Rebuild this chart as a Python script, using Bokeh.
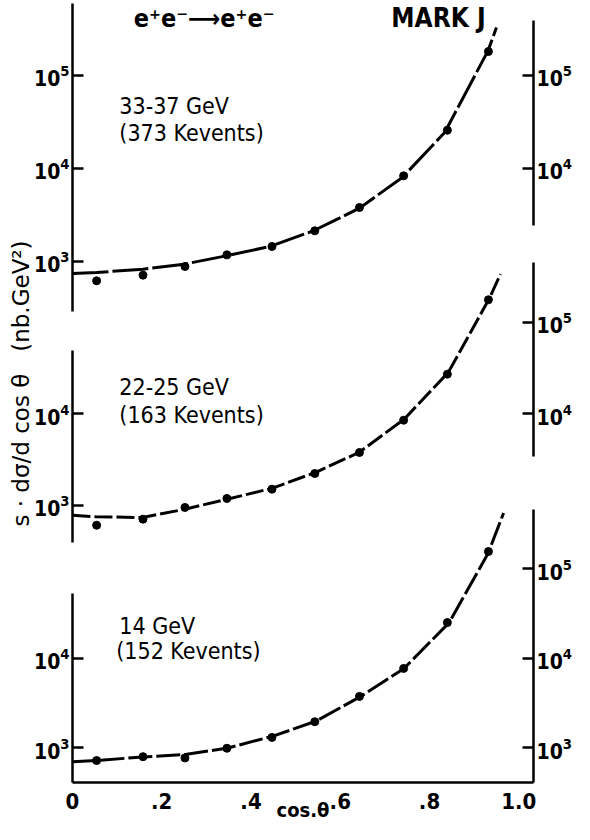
from bokeh.plotting import figure
from bokeh.layouts import column
from bokeh.models import Range1d, LogAxis, FixedTicker, Label
from bokeh.embed import file_html
from bokeh.resources import INLINE

FONT = "DejaVu Sans Condensed"
TITLE_FONT = "DejaVu Sans"

# ---- data ----
x_points = [0.054, 0.158, 0.252, 0.346, 0.447, 0.543, 0.643, 0.742, 0.840, 0.932]
top_points = [620, 713, 884, 1180, 1450, 2140, 3810, 8340, 25800, 181000]
mid_points = [601, 700, 940, 1178, 1490, 2210, 3750, 8450, 26900, 175000]
bot_points = [725, 800, 775, 993, 1312, 1963, 3760, 7710, 25000, 155000]

top_curve_x = [0.0, 0.054, 0.158, 0.25, 0.344, 0.442, 0.54, 0.642, 0.739, 0.834, 0.931, 0.950]
top_curve_y = [743, 762, 826, 935, 1150, 1450, 2140, 3720, 8000, 24400, 184000, 328000]
mid_curve_x = [0.0, 0.053, 0.157, 0.252, 0.346, 0.448, 0.544, 0.642, 0.743, 0.842, 0.933, 0.959]
mid_curve_y = [774, 743, 730, 900, 1155, 1527, 2264, 3750, 8670, 28100, 177000, 333000]
bot_curve_x = [0.0, 0.054, 0.158, 0.256, 0.348, 0.451, 0.546, 0.646, 0.743, 0.844, 0.931, 0.966]
bot_curve_y = [701, 725, 795, 850, 1000, 1365, 1995, 3760, 7710, 25000, 147000, 416000]

x_ticks = [0.0, 0.2, 0.4, 0.6, 0.8, 1.0]
x_tick_labels = ["0", ".2", ".4", ".6", ".8", "1.0"]

top_left_ticks = [1e3, 1e4, 1e5]
top_right_ticks = [1e4, 1e5]
mid_left_ticks = [1e3, 1e4]
mid_right_ticks = [1e4, 1e5]
bot_left_ticks = [1e3, 1e4]
bot_right_ticks = [1e3, 1e4, 1e5]

panel_energy = ["33-37 GeV", "22-25 GeV", "14 GeV"]
panel_events = ["(373 Kevents)", "(163 Kevents)", "(152 Kevents)"]
y_title = "s \u00b7 d\u03c3/d cos \u03b8\u00a0\u00a0\u00a0(nb.GeV\u00b2)"
x_title = "cos.\u03b8"

AX_W = 2.5
X_END = 1.033


def make_fig(h, ylo, yhi, mbt, mbb, with_xaxis):
    f = figure(width=574, height=h, x_range=Range1d(0, X_END), y_range=Range1d(ylo, yhi),
               y_axis_type="log", y_axis_location=None,
               x_axis_location="below" if with_xaxis else None,
               output_backend="svg", toolbar_location=None,
               min_border_left=72, min_border_right=30,
               min_border_top=mbt, min_border_bottom=mbb)
    f.grid.visible = False
    f.outline_line_color = None
    f.background_fill_color = None
    f.border_fill_color = None
    return f


def add_yaxis(f, side, ticks, bounds, label=None):
    ax = LogAxis(ticker=FixedTicker(ticks=ticks), bounds=bounds)
    ax.axis_line_width = AX_W
    ax.axis_line_color = "black"
    ax.major_tick_line_width = AX_W
    ax.major_tick_line_color = "black"
    ax.major_tick_in = 11
    ax.major_tick_out = 0
    ax.minor_tick_line_color = None
    ax.major_label_standoff = 3
    ax.major_label_text_font = FONT
    ax.major_label_text_font_size = "21px"
    ax.major_label_text_font_style = "bold"
    ax.major_label_text_color = "black"
    if label:
        ax.axis_label = label
        ax.axis_label_text_font = TITLE_FONT
        ax.axis_label_text_font_size = "23px"
        ax.axis_label_text_font_style = "normal"
        ax.axis_label_text_color = "black"
        ax.axis_label_standoff = -3
    f.add_layout(ax, side)


def lab(f, x, y, text, size="23px", style="normal", align="left", baseline="alphabetic"):
    f.add_layout(Label(x=x, y=y, text=text, text_font=FONT, text_font_size=size,
                       text_font_style=style, text_align=align,
                       text_baseline=baseline, text_color="black"))


# ---- top panel (33-37 GeV) ----
ft = make_fig(322, 10 ** 2.4301, 10 ** 5.7849, 2, 8, False)
add_yaxis(ft, "left", top_left_ticks, (290, 5.9e5))
add_yaxis(ft, "right", top_right_ticks, (2440, 3.9e5))
ft.line(top_curve_x, top_curve_y, line_width=3, color="black", line_dash="36 4")
ft.scatter(x_points, top_points, size=8, color="black")
lab(ft, 0.295, 4.1e5, "e\u207ae\u207b\u27f6e\u207ae\u207b", size="25px", style="bold",
    align="center", baseline="middle")
lab(ft, 0.82, 4.2e5, "MARK J", size="26px", style="bold", align="center", baseline="middle")
lab(ft, 0.105, 47500, panel_energy[0])
lab(ft, 0.105, 23800, panel_events[0])

# ---- middle panel (22-25 GeV) ----
fm = make_fig(322, 10 ** 2.5902, 10 ** 6.0656, 2, 2, False)
add_yaxis(fm, "left", mid_left_ticks, (389, 4.89e4), label=y_title)
add_yaxis(fm, "right", mid_right_ticks, (3390, 4.47e5))
fm.line(mid_curve_x, mid_curve_y, line_width=3, color="black", line_dash="18 4")
fm.scatter(x_points, mid_points, size=8, color="black")
lab(fm, 0.105, 19700, panel_energy[1])
lab(fm, 0.105, 9750, panel_events[1])
fm.margin = (-100, 0, 0, 0)

# ---- bottom panel (14 GeV) ----
fb = make_fig(322, 10 ** 2.6154, 10 ** 5.7143, 2, 38, True)
add_yaxis(fb, "left", bot_left_ticks, (10 ** 2.6154, 5.31e4))
add_yaxis(fb, "right", bot_right_ticks, (10 ** 2.6154, 4.56e5))
fb.line(bot_curve_x, bot_curve_y, line_width=3, color="black", line_dash="24 4")
fb.scatter(x_points, bot_points, size=8, color="black")
lab(fb, 0.105, 23000, panel_energy[2])
lab(fb, 0.098, 12200, panel_events[2])
fb.margin = (-42, 0, 0, 0)

xa = fb.xaxis[0]
xa.ticker = FixedTicker(ticks=x_ticks)
xa.major_label_overrides = dict(zip(x_ticks, x_tick_labels))
xa.axis_line_width = AX_W
xa.axis_line_color = "black"
xa.major_tick_line_color = None
xa.minor_tick_line_color = None
xa.major_label_standoff = 4
xa.major_label_text_font = FONT
xa.major_label_text_font_size = "22px"
xa.major_label_text_font_style = "bold"
xa.major_label_text_color = "black"
xa.axis_label = x_title
xa.axis_label_text_font = FONT
xa.axis_label_text_font_size = "20px"
xa.axis_label_text_font_style = "bold"
xa.axis_label_text_color = "black"
xa.axis_label_standoff = -14

layout = column(ft, fm, fb)
open("out.html", "w").write(file_html(layout, INLINE))
